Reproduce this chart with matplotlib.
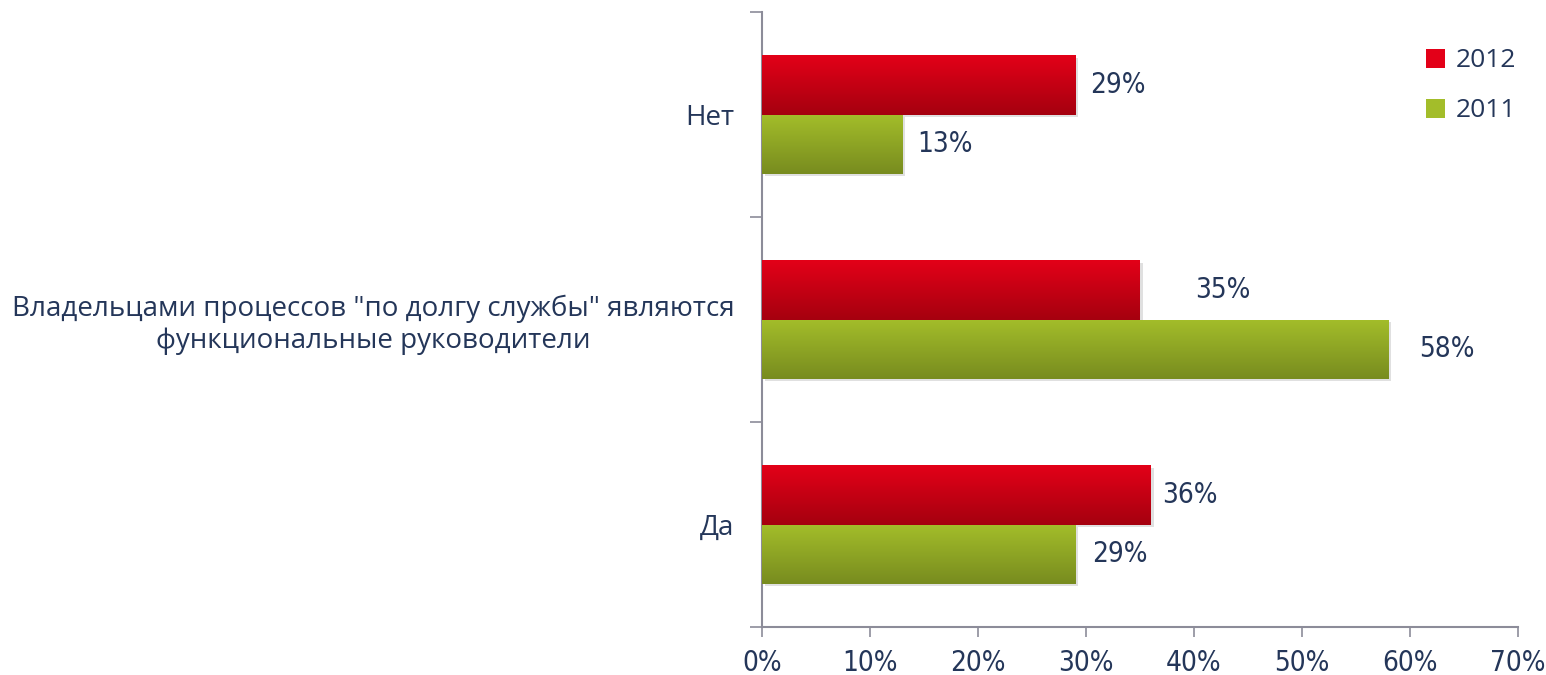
import numpy as np
import matplotlib.pyplot as plt
import matplotlib.patheffects as pe
from matplotlib.colors import LinearSegmentedColormap

# data, bottom to top as in the picture
categories = ['Да',
              'Владельцами процессов "по долгу службы" являются\nфункциональные руководители',
              'Нет']
values_2012 = [36, 35, 29]
values_2011 = [29, 58, 13]
series_names = ['2012', '2011']
xticks = [0, 10, 20, 30, 40, 50, 60, 70]

# extra horizontal offset (points) of each value label, same order as values
nudge_2012 = [8, 40, 11]
nudge_2011 = [12, 22, 11]

TEXT = '#243659'
AXIS = '#8c8c99'
RED_TOP, RED_BOT = '#e30018', '#a5000f'
GRN_TOP, GRN_BOT = '#a3bd2a', '#788c1f'

plt.rcParams['font.family'] = ['Open Sans', 'DejaVu Sans']
num_font = {'family': ['DejaVu Sans'], 'stretch': 'condensed', 'size': 20}

fig = plt.figure(figsize=(15.46, 6.75), dpi=100)
ax = fig.add_axes([0.4929, 0.0711, 0.4890, 0.9111])

y = np.arange(len(categories))
h = 0.288


def gradient_bars(ypos, vals, top, bot, label):
    bars = ax.barh(ypos, vals, height=h, color=bot, label=label, zorder=2,
                   path_effects=[pe.SimplePatchShadow(offset=(2, -2), shadow_rgbFace='#000000', alpha=0.12),
                                 pe.Normal()])
    cmap = LinearSegmentedColormap.from_list('g', [top, bot])
    grad = np.linspace(0, 1, 64).reshape(-1, 1)
    for b in bars:
        x0, y0, w, hh = b.get_x(), b.get_y(), b.get_width(), b.get_height()
        im = ax.imshow(grad, cmap=cmap, aspect='auto', origin='upper',
                       extent=[x0, x0 + w, y0, y0 + hh], zorder=3)
        im.set_clip_path(b)
    return bars


b12 = gradient_bars(y + h / 2, values_2012, RED_TOP, RED_BOT, series_names[0])
b11 = gradient_bars(y - h / 2, values_2011, GRN_TOP, GRN_BOT, series_names[1])

for bars, vals, nudges in [(b12, values_2012, nudge_2012), (b11, values_2011, nudge_2011)]:
    for b, v, n in zip(bars, vals, nudges):
        ax.annotate(f'{v}%', (v, b.get_y() + b.get_height() / 2), xytext=(n, 0),
                    textcoords='offset points', ha='left', va='center',
                    color=TEXT, fontproperties=num_font)

ax.set_xlim(0, 70)
ax.set_ylim(-0.5, 2.5)
ax.set_xticks(xticks)
ax.set_xticklabels([f'{t}%' for t in xticks], color=TEXT, fontproperties=num_font)
ax.set_yticks(y)
ax.set_yticklabels(categories, fontsize=20, color=TEXT, ha='right', multialignment='center')
ax.tick_params(axis='y', length=0, pad=20)
ax.set_yticks([-0.5, 0.5, 1.5, 2.5], minor=True)
ax.tick_params(axis='y', which='minor', length=9, color=AXIS, width=1.2, direction='out')
ax.tick_params(axis='x', length=7, color=AXIS, width=1.2, pad=9)

for s in ['top', 'right']:
    ax.spines[s].set_visible(False)
for s in ['left', 'bottom']:
    ax.spines[s].set_color(AXIS)
    ax.spines[s].set_linewidth(1.5)

leg = ax.legend(loc='upper right', bbox_to_anchor=(1.012, 0.958), borderaxespad=0, frameon=False,
                handlelength=0.75, handleheight=0.75, handletextpad=0.4, labelspacing=0.95,
                labelcolor=TEXT, prop={'family': ['Open Sans', 'DejaVu Sans'], 'size': 19})
for hnd, top in zip(leg.legend_handles, [RED_TOP, GRN_TOP]):
    hnd.set_path_effects([])
    hnd.set_facecolor(top)

fig.savefig('out.png', dpi=100)
